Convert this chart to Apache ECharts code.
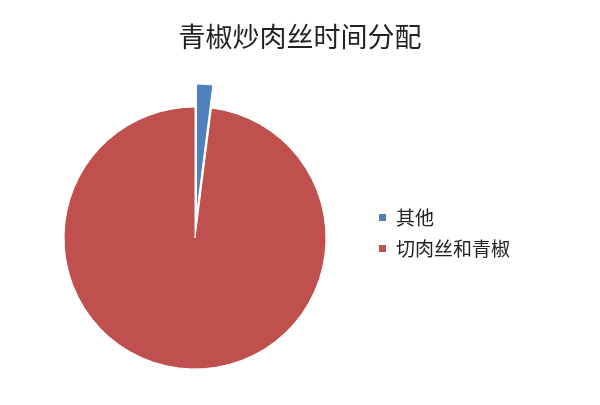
<!DOCTYPE html>
<html><head><meta charset="utf-8">
<script src="https://cdn.jsdelivr.net/npm/echarts@6/dist/echarts.min.js"></script>
<style>html,body{margin:0;padding:0;background:#fff}#c{width:600px;height:405px}</style>
</head><body><div id="c"></div>
<script>
const categories = ['其他', '切肉丝和青椒'];
const values = [2, 98];
const colors = ['#4f81bd', '#c0504d'];
const chart = echarts.init(document.getElementById('c'));
chart.setOption({
  backgroundColor: '#fff',
  animation: false,
  title: {
    text: '青椒炒肉丝时间分配',
    left: 'center', top: 18,
    textStyle: { fontFamily: 'Noto Sans CJK SC', fontSize: 27, fontWeight: 'normal', color: '#222' }
  },
  legend: {
    orient: 'vertical', left: 372, top: 203, itemGap: 12,
    itemWidth: 9, itemHeight: 9, icon: 'rect',
    data: categories,
    textStyle: { fontFamily: 'Noto Sans CJK SC', fontSize: 19, color: '#222', padding: [0,0,0,4] }
  },
  series: [{
    type: 'pie',
    center: [195, 238], radius: 131,
    startAngle: 90, clockwise: true,
    selectedMode: 'single', selectedOffset: 23,
    label: { show: false }, labelLine: { show: false },
    itemStyle: { borderColor: '#fff', borderWidth: 1 },
    data: categories.map((n, i) => ({ name: n, value: values[i], selected: i === 0, itemStyle: { color: colors[i] } }))
  }]
});
</script></body></html>
